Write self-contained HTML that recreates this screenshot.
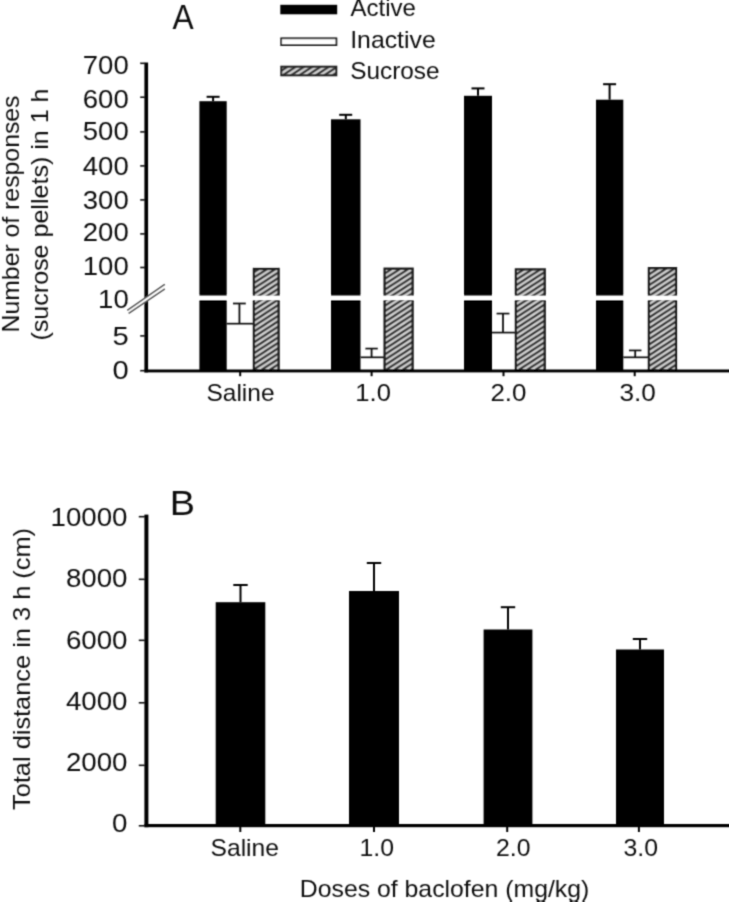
<!DOCTYPE html>
<html><head><meta charset="utf-8"><title>Figure</title>
<style>
html,body{margin:0;padding:0;background:#fff;}
body{width:729px;height:902px;overflow:hidden;}
svg{display:block;}
text{font-family:"Liberation Sans",sans-serif;fill:#111;}
</style></head><body>
<svg width="729" height="902" viewBox="0 0 729 902">
<defs>
<pattern id="hatch" patternUnits="userSpaceOnUse" width="8.3" height="5.4">
<rect width="8.3" height="5.4" fill="#d4d4d4"/>
<path d="M-8.3,10.8 L16.6,-5.4 M-8.3,5.4 L16.6,-10.8 M-8.3,16.2 L16.6,0" stroke="#2c2c2c" stroke-width="2.2"/>
</pattern>
<filter id="soft" x="0" y="0" width="100%" height="100%" filterUnits="objectBoundingBox"><feConvolveMatrix order="3" kernelMatrix="0.07 0.26 0.07 0.26 1 0.26 0.07 0.26 0.07" edgeMode="duplicate" preserveAlpha="false"/></filter>
</defs>
<rect width="729" height="902" fill="#fff"/>
<g filter="url(#soft)">

<rect x="199.4" y="101.2" width="27.3" height="269.3" fill="#000" />
<line x1="213.1" y1="96.8" x2="213.1" y2="101.2" stroke="#000" stroke-width="2"/>
<line x1="206.6" y1="96.8" x2="219.6" y2="96.8" stroke="#000" stroke-width="2"/>
<line x1="226.7" y1="323.7" x2="253.3" y2="323.7" stroke="#111" stroke-width="1.7"/>
<line x1="239.4" y1="303.5" x2="239.4" y2="323.7" stroke="#111" stroke-width="1.8"/>
<line x1="233.0" y1="303.5" x2="245.8" y2="303.5" stroke="#111" stroke-width="1.7"/>
<rect x="253.9" y="269.0" width="24.7" height="101.5" fill="url(#hatch)" stroke="#1c1c1c" stroke-width="2.3"/>
<rect x="198.4" y="295.7" width="83.2" height="4.3" fill="#fff" />
<rect x="331.0" y="119.3" width="29.5" height="251.2" fill="#000" />
<line x1="345.8" y1="114.8" x2="345.8" y2="119.3" stroke="#000" stroke-width="2"/>
<line x1="339.2" y1="114.8" x2="352.2" y2="114.8" stroke="#000" stroke-width="2"/>
<line x1="360.5" y1="357.3" x2="384.0" y2="357.3" stroke="#111" stroke-width="1.7"/>
<line x1="371.6" y1="348.6" x2="371.6" y2="357.3" stroke="#111" stroke-width="1.8"/>
<line x1="365.4" y1="348.6" x2="377.8" y2="348.6" stroke="#111" stroke-width="1.7"/>
<rect x="384.6" y="268.7" width="28.0" height="101.8" fill="url(#hatch)" stroke="#1c1c1c" stroke-width="2.3"/>
<rect x="330.0" y="295.7" width="85.6" height="4.3" fill="#fff" />
<rect x="464.0" y="95.8" width="28.0" height="274.7" fill="#000" />
<line x1="478.0" y1="88.4" x2="478.0" y2="95.8" stroke="#000" stroke-width="2"/>
<line x1="471.5" y1="88.4" x2="484.5" y2="88.4" stroke="#000" stroke-width="2"/>
<line x1="492.0" y1="332.6" x2="515.3" y2="332.6" stroke="#111" stroke-width="1.7"/>
<line x1="503.0" y1="313.6" x2="503.0" y2="332.6" stroke="#111" stroke-width="1.8"/>
<line x1="496.6" y1="313.6" x2="509.4" y2="313.6" stroke="#111" stroke-width="1.7"/>
<rect x="515.9" y="269.4" width="28.8" height="101.1" fill="url(#hatch)" stroke="#1c1c1c" stroke-width="2.3"/>
<rect x="463.0" y="295.7" width="84.7" height="4.3" fill="#fff" />
<rect x="596.0" y="99.7" width="27.3" height="270.8" fill="#000" />
<line x1="609.6" y1="84.2" x2="609.6" y2="99.7" stroke="#000" stroke-width="2"/>
<line x1="603.1" y1="84.2" x2="616.1" y2="84.2" stroke="#000" stroke-width="2"/>
<line x1="623.3" y1="357.3" x2="648.3" y2="357.3" stroke="#111" stroke-width="1.7"/>
<line x1="635.2" y1="350.4" x2="635.2" y2="357.3" stroke="#111" stroke-width="1.8"/>
<line x1="629.0" y1="350.4" x2="641.4" y2="350.4" stroke="#111" stroke-width="1.7"/>
<rect x="648.9" y="268.2" width="27.1" height="102.3" fill="url(#hatch)" stroke="#1c1c1c" stroke-width="2.3"/>
<rect x="595.0" y="295.7" width="84.0" height="4.3" fill="#fff" />
<rect x="144.4" y="62.5" width="3.7" height="309.9" fill="#000" />
<rect x="144.4" y="369.5" width="584.6" height="2.9" fill="#000" />
<line x1="140.2" y1="63.3" x2="144.9" y2="63.3" stroke="#111" stroke-width="1.6"/>
<line x1="140.2" y1="97.2" x2="144.9" y2="97.2" stroke="#111" stroke-width="1.6"/>
<line x1="140.2" y1="131.9" x2="144.9" y2="131.9" stroke="#111" stroke-width="1.6"/>
<line x1="140.2" y1="165.9" x2="144.9" y2="165.9" stroke="#111" stroke-width="1.6"/>
<line x1="140.2" y1="199.9" x2="144.9" y2="199.9" stroke="#111" stroke-width="1.6"/>
<line x1="140.2" y1="233.9" x2="144.9" y2="233.9" stroke="#111" stroke-width="1.6"/>
<line x1="140.2" y1="267.5" x2="144.9" y2="267.5" stroke="#111" stroke-width="1.6"/>
<line x1="140.2" y1="335.9" x2="144.9" y2="335.9" stroke="#111" stroke-width="1.6"/>
<line x1="140.2" y1="370.7" x2="144.9" y2="370.7" stroke="#111" stroke-width="1.6"/>
<line x1="240.2" y1="371.9" x2="240.2" y2="376.2" stroke="#000" stroke-width="2"/>
<line x1="371.6" y1="371.9" x2="371.6" y2="376.2" stroke="#000" stroke-width="2"/>
<line x1="503.5" y1="371.9" x2="503.5" y2="376.2" stroke="#000" stroke-width="2"/>
<line x1="634.7" y1="371.9" x2="634.7" y2="376.2" stroke="#000" stroke-width="2"/>
<polygon points="127.3,310.5 164.8,284.6 164.8,288.8 128.6,313.4" fill="#fff"/>
<line x1="127.3" y1="310.3" x2="164.8" y2="284.4" stroke="#4a4a4a" stroke-width="1.5"/>
<line x1="128.6" y1="313.4" x2="164.8" y2="288.9" stroke="#4a4a4a" stroke-width="1.5"/>
<text x="128.7" y="74.1" font-size="25" text-anchor="end" textLength="45.9" lengthAdjust="spacingAndGlyphs" >700</text>
<text x="128.7" y="108.0" font-size="25" text-anchor="end" textLength="45.9" lengthAdjust="spacingAndGlyphs" >600</text>
<text x="128.7" y="140.4" font-size="25" text-anchor="end" textLength="45.9" lengthAdjust="spacingAndGlyphs" >500</text>
<text x="128.7" y="174.7" font-size="25" text-anchor="end" textLength="45.9" lengthAdjust="spacingAndGlyphs" >400</text>
<text x="128.7" y="208.9" font-size="25" text-anchor="end" textLength="45.9" lengthAdjust="spacingAndGlyphs" >300</text>
<text x="128.7" y="241.3" font-size="25" text-anchor="end" textLength="45.9" lengthAdjust="spacingAndGlyphs" >200</text>
<text x="128.7" y="274.9" font-size="25" text-anchor="end" textLength="45.9" lengthAdjust="spacingAndGlyphs" >100</text>
<text x="128.7" y="307.8" font-size="25" text-anchor="end" textLength="30.6" lengthAdjust="spacingAndGlyphs" >10</text>
<text x="128.7" y="345.1" font-size="25" text-anchor="end" textLength="16.2" lengthAdjust="spacingAndGlyphs" >5</text>
<text x="128.7" y="378.8" font-size="25" text-anchor="end" textLength="16.2" lengthAdjust="spacingAndGlyphs" >0</text>
<text x="206.5" y="401.0" font-size="24" text-anchor="start" textLength="68.0" lengthAdjust="spacingAndGlyphs" >Saline</text>
<text x="355.3" y="401.0" font-size="24" text-anchor="start" textLength="35.6" lengthAdjust="spacingAndGlyphs" >1.0</text>
<text x="490.4" y="401.0" font-size="24" text-anchor="start" textLength="36.0" lengthAdjust="spacingAndGlyphs" >2.0</text>
<text x="619.5" y="401.0" font-size="24" text-anchor="start" textLength="36.4" lengthAdjust="spacingAndGlyphs" >3.0</text>
<text x="172.5" y="29.0" font-size="35.5" text-anchor="start" textLength="21.2" lengthAdjust="spacingAndGlyphs" >A</text>
<rect x="280.3" y="4.8" width="56.9" height="9.5" fill="#000" />
<rect x="281.2" y="38.3" width="55.2" height="6.8" fill="#fff" stroke="#222" stroke-width="1.8"/>
<rect x="281.3" y="66.7" width="55" height="8.6" fill="url(#hatch)" stroke="#222" stroke-width="2"/>
<text x="350.6" y="16.3" font-size="24" text-anchor="start" textLength="65.3" lengthAdjust="spacingAndGlyphs" >Active</text>
<text x="350.2" y="48.0" font-size="24" text-anchor="start" textLength="85.5" lengthAdjust="spacingAndGlyphs" >Inactive</text>
<text x="350.2" y="79.0" font-size="24" text-anchor="start" textLength="89.3" lengthAdjust="spacingAndGlyphs" >Sucrose</text>
<text transform="translate(19.3,332.5) rotate(-90)" font-size="24" textLength="237" lengthAdjust="spacingAndGlyphs">Number of responses</text>
<text transform="translate(48.3,340.5) rotate(-90)" font-size="24" textLength="252" lengthAdjust="spacingAndGlyphs">(sucrose pellets) in 1 h</text>
<rect x="215.7" y="602.2" width="49.6" height="223.3" fill="#000" />
<line x1="240.5" y1="585.0" x2="240.5" y2="602.2" stroke="#000" stroke-width="2"/>
<line x1="233.3" y1="585.0" x2="247.7" y2="585.0" stroke="#000" stroke-width="2"/>
<rect x="349.0" y="591.0" width="50.0" height="234.5" fill="#000" />
<line x1="374.0" y1="563.0" x2="374.0" y2="591.0" stroke="#000" stroke-width="2"/>
<line x1="366.8" y1="563.0" x2="381.2" y2="563.0" stroke="#000" stroke-width="2"/>
<rect x="483.6" y="629.5" width="48.8" height="196.0" fill="#000" />
<line x1="508.0" y1="607.2" x2="508.0" y2="629.5" stroke="#000" stroke-width="2"/>
<line x1="500.8" y1="607.2" x2="515.2" y2="607.2" stroke="#000" stroke-width="2"/>
<rect x="616.0" y="649.5" width="48.0" height="176.0" fill="#000" />
<line x1="640.0" y1="639.0" x2="640.0" y2="649.5" stroke="#000" stroke-width="2"/>
<line x1="632.8" y1="639.0" x2="647.2" y2="639.0" stroke="#000" stroke-width="2"/>
<rect x="144.4" y="514.6" width="4.0" height="312.6" fill="#000" />
<rect x="144.4" y="824.0" width="584.6" height="3.2" fill="#000" />
<line x1="138.8" y1="516.7" x2="144.9" y2="516.7" stroke="#111" stroke-width="1.6"/>
<line x1="138.8" y1="579.3" x2="144.9" y2="579.3" stroke="#111" stroke-width="1.6"/>
<line x1="138.8" y1="640.3" x2="144.9" y2="640.3" stroke="#111" stroke-width="1.6"/>
<line x1="138.8" y1="702.8" x2="144.9" y2="702.8" stroke="#111" stroke-width="1.6"/>
<line x1="138.8" y1="765.3" x2="144.9" y2="765.3" stroke="#111" stroke-width="1.6"/>
<line x1="138.8" y1="825.8" x2="144.9" y2="825.8" stroke="#111" stroke-width="1.6"/>
<line x1="240.3" y1="826.7" x2="240.3" y2="832.0" stroke="#000" stroke-width="2"/>
<line x1="374.0" y1="826.7" x2="374.0" y2="832.0" stroke="#000" stroke-width="2"/>
<line x1="507.2" y1="826.7" x2="507.2" y2="832.0" stroke="#000" stroke-width="2"/>
<line x1="638.9" y1="826.7" x2="638.9" y2="832.0" stroke="#000" stroke-width="2"/>
<text x="127.5" y="526.1" font-size="25" text-anchor="end" textLength="77.0" lengthAdjust="spacingAndGlyphs" >10000</text>
<text x="127.5" y="586.8" font-size="25" text-anchor="end" textLength="61.6" lengthAdjust="spacingAndGlyphs" >8000</text>
<text x="127.5" y="648.7" font-size="25" text-anchor="end" textLength="61.6" lengthAdjust="spacingAndGlyphs" >6000</text>
<text x="127.5" y="709.8" font-size="25" text-anchor="end" textLength="61.6" lengthAdjust="spacingAndGlyphs" >4000</text>
<text x="127.5" y="770.8" font-size="25" text-anchor="end" textLength="61.6" lengthAdjust="spacingAndGlyphs" >2000</text>
<text x="127.5" y="832.0" font-size="25" text-anchor="end" textLength="15.4" lengthAdjust="spacingAndGlyphs" >0</text>
<text x="210.5" y="856.0" font-size="24" text-anchor="start" textLength="68.5" lengthAdjust="spacingAndGlyphs" >Saline</text>
<text x="359.5" y="856.0" font-size="24" text-anchor="start" textLength="34.5" lengthAdjust="spacingAndGlyphs" >1.0</text>
<text x="496.0" y="856.0" font-size="24" text-anchor="start" textLength="34.5" lengthAdjust="spacingAndGlyphs" >2.0</text>
<text x="623.5" y="856.0" font-size="24" text-anchor="start" textLength="34.5" lengthAdjust="spacingAndGlyphs" >3.0</text>
<text x="299.8" y="896.7" font-size="24" text-anchor="start" textLength="289.5" lengthAdjust="spacingAndGlyphs" >Doses of baclofen (mg/kg)</text>
<text x="169.8" y="515.2" font-size="35" text-anchor="start" textLength="25.2" lengthAdjust="spacingAndGlyphs" >B</text>
<text transform="translate(30.2,810) rotate(-90)" font-size="24" textLength="282" lengthAdjust="spacingAndGlyphs">Total distance in 3 h (cm)</text>
</g></svg></body></html>
